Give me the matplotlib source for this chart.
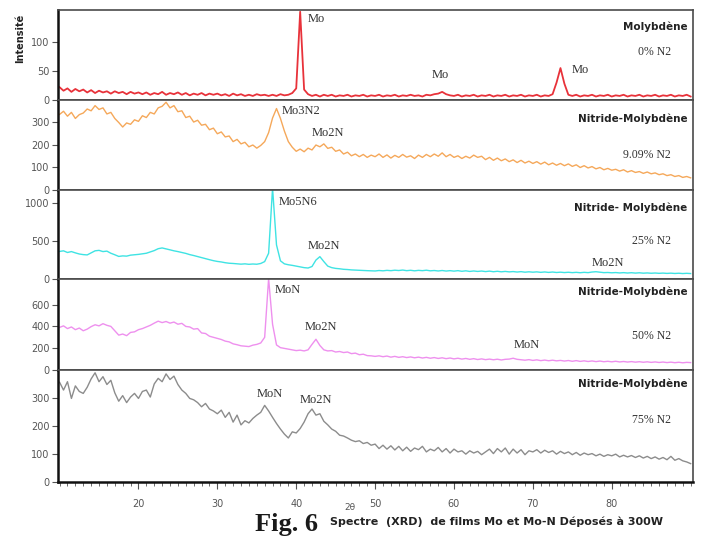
import numpy as np
import matplotlib
matplotlib.use("Agg")
import matplotlib.pyplot as plt
from matplotlib.ticker import MultipleLocator

# scan grid, 2theta in degrees (0.5 deg step)
two_theta = np.arange(10, 90.5, 0.5)

# 0% N2 (Mo)
i_0 = [22, 16, 20, 14, 19, 15, 18, 13, 17, 12, 16, 13, 15, 11, 15, 12, 14, 10, 14, 11,
       13, 10, 13, 9, 12, 10, 14, 9, 12, 10, 13, 9, 12, 8, 11, 9, 12, 8, 11, 9,
       11, 8, 10, 7, 11, 8, 10, 7, 9, 7, 10, 8, 9, 7, 9, 7, 10, 8, 9, 12,
       20, 152, 18, 10, 7, 9, 6, 9, 7, 9, 6, 8, 7, 9, 6, 8, 7, 9, 6, 8,
       7, 9, 6, 8, 7, 9, 6, 8, 7, 9, 7, 8, 6, 9, 8, 10, 11, 14, 10, 8,
       7, 9, 6, 8, 7, 9, 6, 8, 7, 9, 6, 8, 7, 9, 6, 8, 7, 9, 6, 8,
       7, 9, 6, 8, 7, 10, 30, 55, 28, 9, 7, 9, 6, 8, 7, 9, 6, 8, 7, 9,
       6, 8, 7, 9, 6, 8, 7, 9, 6, 8, 7, 9, 6, 8, 7, 9, 6, 8, 7, 9, 6]

# 9.09% N2
i_9 = [336, 350, 328, 345, 318, 335, 342, 360, 352, 375, 358, 365, 338, 345, 318, 300, 280, 298, 292, 312,
       305, 330, 322, 345, 338, 365, 372, 390, 365, 375, 348, 352, 322, 328, 302, 310, 288, 292, 268, 275,
       250, 258, 236, 240, 215, 225, 205, 212, 192, 200, 186, 198, 215, 255, 320, 362, 318, 262, 215, 190,
       172, 182, 170, 186, 178, 200, 192, 205, 185, 190, 172, 178, 160, 168, 152, 160, 148, 158, 145, 155,
       148, 160, 145, 156, 142, 154, 145, 158, 146, 152, 140, 155, 145, 158, 148, 160, 150, 165, 148, 158,
       145, 152, 140, 150, 142, 155, 145, 150, 135, 145, 132, 142, 130, 138, 126, 134, 122, 132, 120, 128,
       118, 126, 115, 124, 112, 120, 110, 118, 108, 116, 105, 112, 100, 108, 98, 104, 94, 100, 90, 96,
       88, 92, 84, 90, 80, 86, 78, 82, 74, 80, 72, 76, 68, 72, 64, 68, 60, 64, 56, 60, 54]

# 25% N2
i_25 = [364, 372, 350, 362, 345, 330, 322, 318, 345, 372, 378, 362, 368, 340, 320, 298, 305, 302, 315, 320,
        325, 332, 340, 358, 375, 400, 410, 398, 385, 372, 362, 350, 338, 322, 310, 296, 282, 268, 255, 242,
        232, 225, 215, 208, 205, 200, 196, 200, 194, 198, 195, 205, 230, 340, 1200, 450, 240, 200, 188, 180,
        170, 160, 150, 145, 165, 250, 295, 230, 170, 150, 140, 135, 128, 125, 120, 118, 115, 112, 110, 108,
        106, 112, 108, 114, 110, 116, 112, 118, 110, 115, 108, 114, 110, 116, 108, 112, 106, 112, 105, 110,
        104, 110, 102, 108, 100, 106, 100, 105, 98, 104, 96, 102, 95, 100, 94, 98, 92, 97, 90, 95,
        90, 94, 88, 93, 87, 92, 86, 90, 85, 89, 84, 88, 83, 88, 84, 92, 96, 90, 84, 86,
        82, 85, 80, 84, 79, 83, 78, 82, 77, 80, 76, 79, 75, 78, 74, 77, 73, 76, 72, 75, 72]

# 50% N2
i_50 = [391, 405, 380, 395, 370, 385, 360, 375, 398, 415, 405, 425, 410, 400, 360, 320, 330, 315, 345, 350,
        370, 380, 395, 410, 430, 448, 435, 445, 430, 440, 420, 428, 400, 395, 375, 380, 340, 335, 310, 300,
        290, 280, 265, 258, 240, 232, 222, 218, 215, 228, 235, 248, 300, 840, 420, 230, 205, 198, 190, 185,
        178, 182, 175, 185, 235, 282, 225, 185, 175, 178, 165, 170, 160, 165, 150, 155, 140, 145, 132, 130,
        125, 130, 122, 128, 118, 125, 116, 122, 114, 120, 112, 118, 110, 116, 108, 114, 106, 112, 104, 110,
        102, 108, 100, 106, 98, 104, 96, 102, 95, 100, 94, 99, 92, 98, 100, 108, 98, 94, 90, 95,
        88, 93, 86, 91, 85, 90, 84, 88, 82, 87, 80, 86, 79, 84, 78, 83, 77, 82, 76, 80,
        75, 80, 74, 78, 73, 77, 72, 76, 71, 75, 70, 74, 69, 73, 68, 72, 67, 71, 66, 70, 68]

# 75% N2
i_75 = [358, 330, 360, 300, 345, 325, 318, 340, 370, 392, 360, 378, 350, 365, 320, 290, 310, 285, 305, 318,
        300, 325, 330, 305, 352, 372, 360, 388, 368, 380, 350, 330, 318, 300, 295, 285, 270, 282, 262, 255,
        245, 258, 232, 250, 215, 240, 205, 220, 212, 228, 240, 250, 275, 255, 232, 210, 190, 172, 158, 180,
        176, 192, 215, 245, 262, 240, 245, 218, 205, 190, 182, 168, 165, 158, 150, 145, 148, 138, 142, 132,
        136, 120, 132, 118, 130, 115, 128, 112, 125, 110, 122, 116, 128, 108, 118, 112, 124, 108, 120, 104,
        118, 108, 112, 100, 112, 104, 110, 98, 108, 118, 102, 120, 108, 122, 100, 118, 104, 116, 98, 112,
        108, 116, 104, 114, 106, 112, 100, 110, 102, 108, 98, 106, 96, 104, 98, 102, 94, 100, 92, 98,
        94, 100, 90, 96, 90, 95, 88, 94, 86, 92, 84, 90, 82, 88, 80, 92, 78, 84, 76, 72, 66]

series = [i_0, i_9, i_25, i_50, i_75]
colors = ['#e8323a', '#f5a85a', '#3fe3e3', '#ee90ee', '#8c8c8c']
ylims = [155, 400, 1175, 835, 402]
yticks = [[0, 50, 100], [0, 100, 200, 300], [0, 500, 1000], [0, 200, 400, 600], [0, 100, 200, 300]]
titles = ['Molybdène', 'Nitride-Molybdène', 'Nitride- Molybdène', 'Nitride-Molybdène', 'Nitride-Molybdène']
title_y = [126, 318, 947, 719, 352]
conc = ['0% N2', '9.09% N2', '25% N2', '50% N2', '75% N2']
conc_y = [83, 157, 497, 312, 224]

# peak labels: (panel, 2theta, intensity, text, align)
peaks = [(0, 41.4, 140, 'Mo', 'left'), (0, 58.3, 43, 'Mo', 'center'), (0, 74.9, 52, 'Mo', 'left'),
         (1, 38.2, 351, 'Mo3N2', 'left'), (1, 42.0, 255, 'Mo2N', 'left'),
         (2, 37.8, 1013, 'Mo5N6', 'left'), (2, 41.5, 440, 'Mo2N', 'left'), (2, 79.5, 217, 'Mo2N', 'center'),
         (3, 37.3, 735, 'MoN', 'left'), (3, 41.1, 391, 'Mo2N', 'left'), (3, 69.2, 228, 'MoN', 'center'),
         (4, 36.6, 315, 'MoN', 'center'), (4, 42.5, 295, 'Mo2N', 'center')]

W, H = 703, 539
fig = plt.figure(figsize=(W / 100, H / 100), dpi=100)

# panel edges in pixels (top, bottom)
edges = [(10, 100), (100, 190), (190, 279), (279, 370), (370, 482)]
x0, x1 = 58, 693

axes = []
for k, (top, bot) in enumerate(edges):
    ax = fig.add_axes([x0 / W, 1 - bot / H, (x1 - x0) / W, (bot - top) / H])
    ax.plot(two_theta, series[k], color=colors[k], lw=1.0 if k != 0 else 1.3)
    ax.set_xlim(9.8, 90.3)
    ax.set_ylim(0, ylims[k])
    ax.set_yticks(yticks[k])
    ax.tick_params(axis='y', direction='out', length=4, width=0.8, color='#555555',
                   labelsize=7, labelcolor='#555555', pad=2)
    for s in ax.spines.values():
        s.set_color('#4a4a4a')
        s.set_linewidth(1.2)
    ax.spines['left'].set_color('#111111')
    ax.spines['left'].set_linewidth(1.8)
    if k < 4:
        ax.set_xticks([])
    else:
        ax.set_xticks([20, 30, 40, 50, 60, 70, 80])
        ax.xaxis.set_minor_locator(MultipleLocator(1))
        ax.tick_params(axis='x', which='major', direction='out', length=5, width=0.8,
                       color='#555555', labelsize=7, labelcolor='#555555', pad=7)
        ax.tick_params(axis='x', which='minor', direction='out', length=3, width=0.6, color='#555555')
        ax.spines['bottom'].set_color('#111111')
        ax.spines['bottom'].set_linewidth(1.8)
    ax.text(89.6, title_y[k], titles[k], ha='right', va='center', fontsize=7.5,
            fontweight='bold', color='#222222')
    ax.text(87.5, conc_y[k], conc[k], ha='right', va='center', fontsize=8.5,
            family='Liberation Serif', color='#333333')
    axes.append(ax)

for p, tx, ty, lab, al in peaks:
    axes[p].text(tx, ty, lab, ha=al, va='center', fontsize=9,
                 family='Liberation Serif', color='#333333')

fig.text(20 / W, 1 - 38 / H, 'Intensité', rotation=90, ha='center', va='center',
         fontsize=7, fontweight='bold', color='#222222')
fig.text(350 / W, 1 - 507 / H, '2θ', ha='center', va='center', fontsize=6.5, color='#555555')
fig.text(255 / W, 1 - 525 / H, 'Fig. 6', ha='left', va='center', fontsize=19,
         fontweight='bold', family='Liberation Serif', color='#1a1a1a')
fig.text(330 / W, 1 - 522 / H, 'Spectre  (XRD)  de films Mo et Mo-N Déposés à 300W',
         ha='left', va='center', fontsize=8, fontweight='bold', color='#222222')

fig.savefig('out.png', dpi=100)
